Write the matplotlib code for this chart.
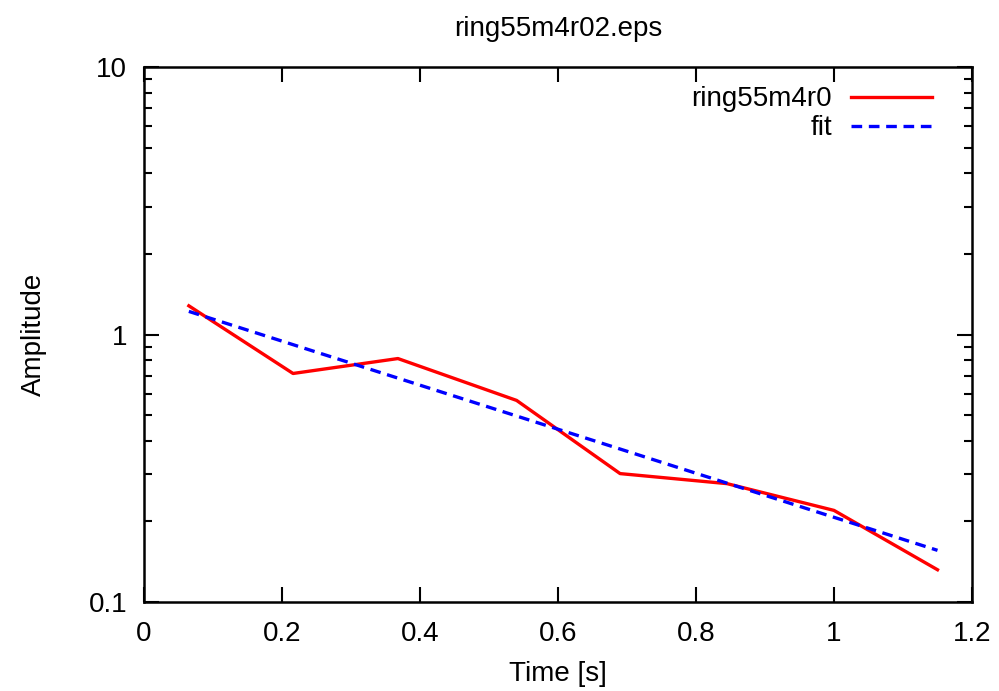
import numpy as np
import matplotlib.pyplot as plt
from matplotlib.ticker import LogLocator, FixedLocator, NullFormatter

plt.rcParams['font.family'] = ['Liberation Sans', 'DejaVu Sans']

# measured ring amplitude
time_s = [0.065, 0.216, 0.368, 0.54, 0.69, 0.845, 1.0, 1.15]
amplitude = [1.28, 0.715, 0.813, 0.567, 0.302, 0.277, 0.22, 0.132]

# exponential fit (straight on log axis)
fit_t = [0.065, 1.15]
fit_amp = [1.22, 0.156]

x_ticks = [0, 0.2, 0.4, 0.6, 0.8, 1.0, 1.2]
x_labels = ["0", "0.2", "0.4", "0.6", "0.8", "1", "1.2"]
y_ticks = [0.1, 1, 10]
y_labels = ["0.1", "1", "10"]

fs = 20

fig = plt.figure(figsize=(9.99, 6.91), dpi=100)
ax = fig.add_axes([144 / 999, 1 - 602 / 691, (972 - 144) / 999, (602 - 67) / 691])

ax.plot(time_s, amplitude, color="red", lw=2.4, label="ring55m4r0")
ax.plot(fit_t, fit_amp, color="blue", lw=2.4, ls=(0, (3.2, 2.0)), label="fit")

ax.set_yscale("log")
ax.set_xlim(0, 1.2)
ax.set_ylim(0.1, 10)
ax.set_xticks(x_ticks, x_labels)
ax.yaxis.set_major_locator(FixedLocator(y_ticks))
ax.set_yticklabels(y_labels)
ax.yaxis.set_minor_locator(LogLocator(base=10, subs=np.arange(2, 10)))
ax.yaxis.set_minor_formatter(NullFormatter())

ax.tick_params(which="both", direction="in", top=True, right=True, labelsize=fs, width=1.5)
ax.tick_params(which="major", length=11)
ax.tick_params(axis="x", which="major", pad=14)
ax.tick_params(axis="y", which="major", pad=12)
ax.tick_params(which="minor", length=6)
for s in ax.spines.values():
    s.set_linewidth(1.8)

ax.set_xlabel("Time [s]", fontsize=fs, labelpad=10)
ax.set_ylabel("Amplitude", fontsize=fs, labelpad=30)
ax.set_title("ring55m4r02.eps", fontsize=fs, pad=22)

ax.legend(loc="upper right", frameon=False, markerfirst=False, fontsize=fs,
          handlelength=2.9, handletextpad=0.7, labelspacing=0.1,
          borderaxespad=0.3, bbox_to_anchor=(0.975, 1.0))

fig.savefig("out.png", dpi=100)
